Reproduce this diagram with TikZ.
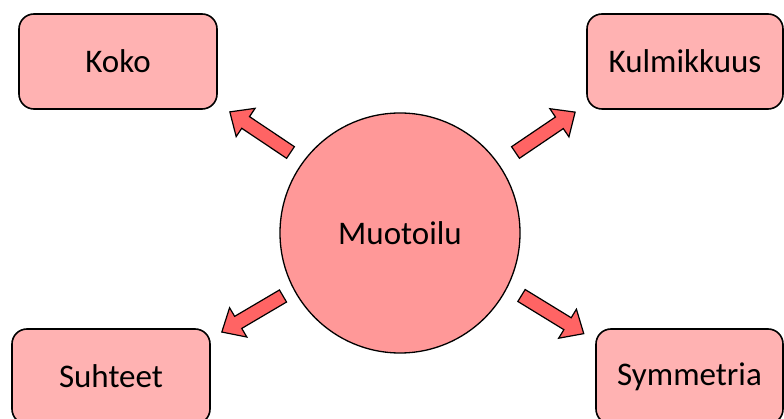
\documentclass[tikz,border=0pt]{standalone}
\usepackage{fontspec}
\setmainfont{Carlito}
\definecolor{boxfill}{RGB}{255,178,178}
\definecolor{circfill}{RGB}{255,152,152}
\definecolor{arrfill}{RGB}{255,100,100}
\begin{document}
\begin{tikzpicture}[x=1pt,y=-1pt,
  box/.style={draw=black, line width=1.6pt, fill=boxfill, rounded corners=15pt,
    minimum height=95pt, inner sep=0pt, font=\fontsize{33}{40}\selectfont},
  hub/.style={circle, draw=black, line width=1.3pt, fill=circfill, minimum size=240pt,
    inner sep=0pt, font=\fontsize{33}{40}\selectfont},
  blockarrow/.style={draw=black, line width=1.2pt, fill=arrfill, line join=miter}]
\useasboundingbox (0,0) rectangle (784,419);
\clip (0,0) rectangle (784,419);
\node[hub] (m) at (400,233) {Muotoilu};
\node[box, minimum width=198pt] (koko) at (118,61.5) {Koko};
\node[box, minimum width=196pt] (kulm) at (685,61.5) {Kulmikkuus};
\node[box, minimum width=198pt] (suht) at (111,376.5) {Suhteet};
\node[box, minimum width=187pt] (symm) at (689.5,376.5) {Symmetria};
% block arrows: tail at shift, pointing by rotate
\foreach \tx/\ty/\ang/\len in {290.5/152.5/146.2/73, 515.5/152.5/34.1/72, 283/296/210.5/71, 521.5/295.5/-31.5/73}{
  \begin{scope}[shift={(\tx,\ty)}, rotate=\ang]
    \draw[blockarrow] (0,-7) -- ({\len-19},-7) -- ({\len-19},-17) -- (\len,0)
      -- ({\len-19},17) -- ({\len-19},7) -- (0,7) -- cycle;
  \end{scope}
}
\end{tikzpicture}
\end{document}
